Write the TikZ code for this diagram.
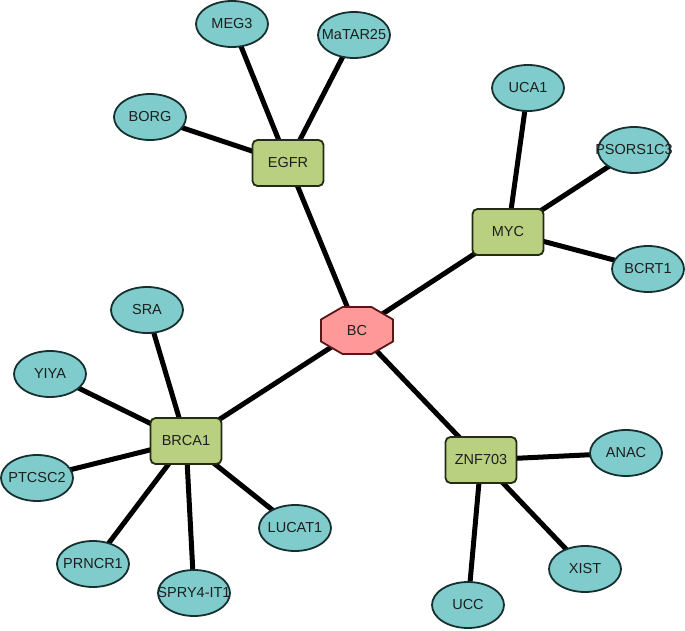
\documentclass[tikz,border=0pt]{standalone}
\usepackage{fontspec}
\setmainfont{Liberation Sans}
\usetikzlibrary{backgrounds,shapes.geometric}
\definecolor{ellfill}{RGB}{128,204,204}
\definecolor{elldraw}{RGB}{22,48,48}
\definecolor{recfill}{RGB}{184,208,128}
\definecolor{recdraw}{RGB}{34,44,20}
\definecolor{octfill}{RGB}{255,153,153}
\definecolor{octdraw}{RGB}{90,22,22}
\definecolor{txt}{RGB}{30,30,30}
\tikzset{
  lnc/.style={ellipse, draw=elldraw, fill=ellfill, line width=1.8pt, minimum width=72pt, minimum height=46pt, inner sep=0pt, text=txt, font=\fontsize{14.5}{16}\selectfont},
  gene/.style={rectangle, rounded corners=5pt, draw=recdraw, fill=recfill, line width=1.8pt, minimum width=71pt, minimum height=46pt, inner sep=0pt, text=txt, font=\fontsize{14.5}{16}\selectfont},
  hub/.style={rectangle, minimum width=72pt, minimum height=47pt, inner sep=0pt, text=txt, font=\fontsize{14.5}{16}\selectfont},
  octo/.style={draw=octdraw, fill=octfill, line width=1.8pt, line join=round},
  edge/.style={line width=5pt, black}
}
\newcommand{\lb}[1]{\makebox[0pt]{#1}}
\begin{document}
\begin{tikzpicture}[x=1pt,y=-1pt]
\useasboundingbox (0,0) rectangle (685,631);
% octagon for BC
\draw[octo] (342.5,307) -- (371.5,307) -- (393,319.5) -- (393,341.5) -- (371.5,354) -- (342.5,354) -- (321,341.5) -- (321,319.5) -- cycle;
\node[hub] (BC) at (357,330.5) {BC};
\node[gene] (EGFR) at (288,163) {EGFR};
\node[gene] (MYC) at (508,232) {MYC};
\node[gene] (BRCA1) at (186,441) {BRCA1};
\node[gene] (ZNF703) at (481,460) {ZNF703};
\node[lnc] (MEG3) at (232,24) {\lb{MEG3}};
\node[lnc] (MaTAR25) at (354,35) {\lb{MaTAR25}};
\node[lnc] (BORG) at (150,117) {\lb{BORG}};
\node[lnc] (UCA1) at (528,88) {\lb{UCA1}};
\node[lnc] (PSORS1C3) at (634,150) {\lb{PSORS1C3}};
\node[lnc] (BCRT1) at (648,269) {\lb{BCRT1}};
\node[lnc] (SRA) at (147,310) {\lb{SRA}};
\node[lnc] (YIYA) at (50,374) {\lb{YIYA}};
\node[lnc] (PTCSC2) at (37,478) {\lb{PTCSC2}};
\node[lnc] (PRNCR1) at (93,564) {\lb{PRNCR1}};
\node[lnc] (SPRY) at (194,593) {\lb{SPRY4-IT1}};
\node[lnc] (LUCAT1) at (295,528) {\lb{LUCAT1}};
\node[lnc] (ANAC) at (626,453) {\lb{ANAC}};
\node[lnc] (XIST) at (585,569) {\lb{XIST}};
\node[lnc] (UCC) at (468,605) {\lb{UCC}};
\begin{scope}[on background layer]
\foreach \a/\b in {BC/EGFR, BC/MYC, BC/BRCA1, BC/ZNF703,
  EGFR/MEG3, EGFR/MaTAR25, EGFR/BORG,
  MYC/UCA1, MYC/PSORS1C3, MYC/BCRT1,
  BRCA1/SRA, BRCA1/YIYA, BRCA1/PTCSC2, BRCA1/PRNCR1, BRCA1/SPRY, BRCA1/LUCAT1,
  ZNF703/ANAC, ZNF703/XIST, ZNF703/UCC}
  \draw[edge] (\a.center) -- (\b.center);
\end{scope}
\end{tikzpicture}
\end{document}
